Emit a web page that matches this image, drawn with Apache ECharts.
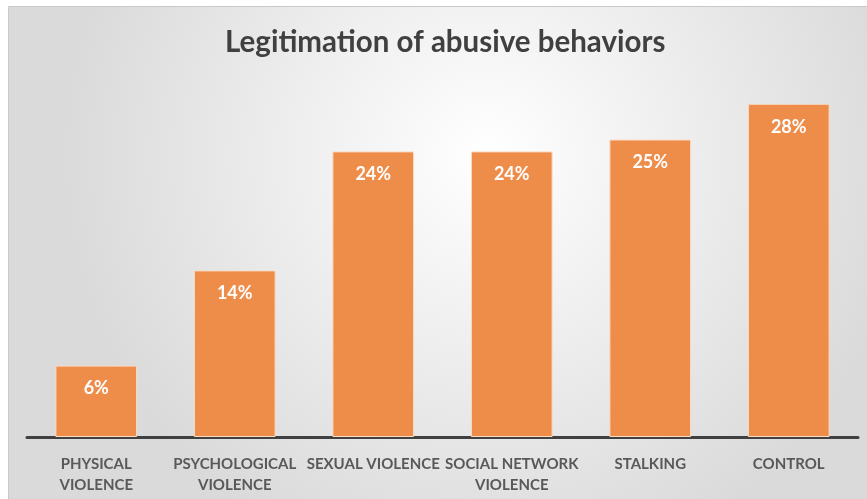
<!DOCTYPE html>
<html>
<head>
<meta charset="utf-8">
<script src="https://cdn.jsdelivr.net/npm/echarts@6/dist/echarts.min.js"></script>
<style>
  html, body { margin: 0; padding: 0; background: #fff; }
  #chart { width: 867px; height: 499px; }
</style>
</head>
<body>
<div id="chart"></div>
<script>
// categories and values
var categories = ['PHYSICAL\nVIOLENCE', 'PSYCHOLOGICAL\nVIOLENCE', 'SEXUAL VIOLENCE', 'SOCIAL NETWORK\nVIOLENCE', 'STALKING', 'CONTROL'];
var values = [6, 14, 24, 24, 25, 28];

var myChart = echarts.init(document.getElementById('chart'));

var option = {
    backgroundColor: '#ffffff',
    graphic: [
        {
            type: 'rect',
            z: -10,
            silent: true,
            shape: {x: 8.5, y: 6.5, width: 870, height: 500},
            style: {
                fill: {
                    type: 'radial', x: 0.55, y: 0.3, r: 0.85,
                    colorStops: [
                        {offset: 0, color: '#ffffff'},
                        {offset: 1, color: '#dadada'}
                    ]
                },
                stroke: '#c9c9c9',
                lineWidth: 1
            }
        }
    ],
    title: {
        text: 'Legitimation of abusive behaviors',
        left: 220,
        top: 22,
        textStyle: {
            fontFamily: 'Lato',
            fontWeight: 'bold',
            fontSize: 29.5,
            color: '#404040'
        }
    },
    grid: {left: 27, right: 9, top: 80, bottom: 62},
    xAxis: {
        type: 'category',
        data: categories,
        axisLine: {lineStyle: {color: '#404040', width: 3}},
        axisTick: {show: false},
        axisLabel: {
            interval: 0,
            margin: 17,
            lineHeight: 21,
            fontFamily: 'Lato',
            fontWeight: 'bold',
            fontSize: 15,
            color: '#595959'
        }
    },
    yAxis: {
        type: 'value',
        min: 0,
        max: 30,
        show: false,
        splitLine: {show: false}
    },
    series: [
        {
            type: 'bar',
            data: values,
            barWidth: '59%',
            itemStyle: {
                color: '#ee8d4a',
                borderColor: '#f9dcc6',
                borderWidth: 1
            },
            label: {
                show: true,
                position: 'insideTop',
                distance: 14,
                formatter: '{c}%',
                fontFamily: 'Lato',
                fontWeight: 'bold',
                fontSize: 18,
                color: '#ffffff'
            }
        }
    ]
};

myChart.setOption(option);
</script>
</body>
</html>
